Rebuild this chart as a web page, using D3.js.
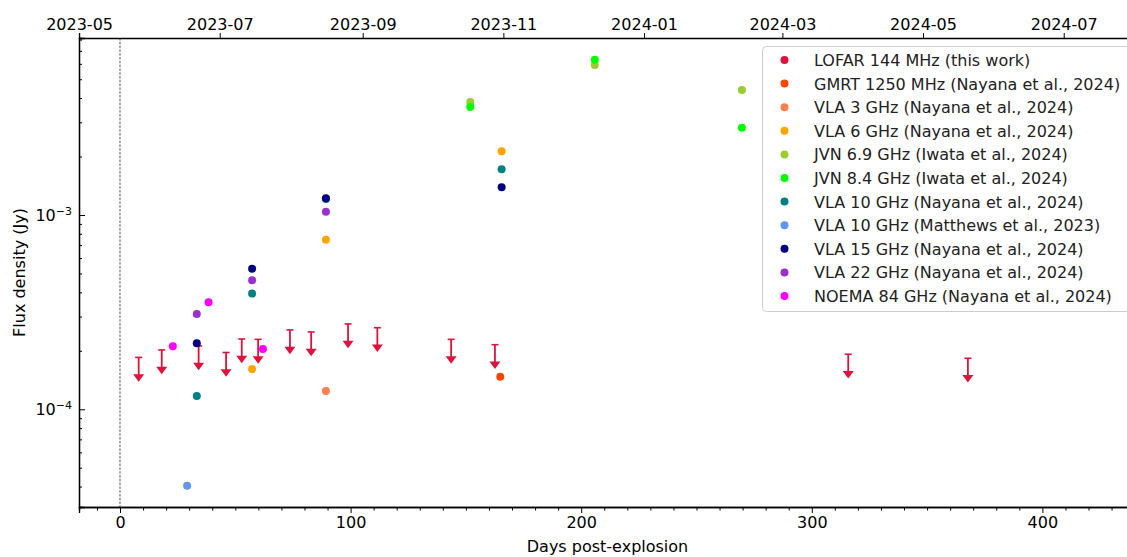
<!DOCTYPE html>
<html lang="en">
<head>
<meta charset="UTF-8">
<title>Radio light curve</title>
<script src="https://d3js.org/d3.v7.min.js"></script>
<style>
    body { margin: 0; background: #fff; }
    svg { font-family: "DejaVu Sans", sans-serif; }
    .axis path, .axis line { stroke: #000; }
    .axis text { font-size: 16px; fill: #000; font-family: "DejaVu Sans", sans-serif; }
</style>
</head>
<body>
<div id="chart"></div>
<script>
// LOFAR 144 MHz upper limits (days post-explosion, flux in Jy at the cap)
var lofarDays  = [8.1, 18.1, 34.1, 46.0, 52.8, 59.9, 73.7, 82.9, 98.9, 111.6, 143.6, 162.6, 315.8, 367.7];
var lofarLimit = [1.85e-4, 2.02e-4, 2.12e-4, 1.96e-4, 2.30e-4, 2.29e-4, 2.56e-4, 2.50e-4, 2.75e-4, 2.63e-4, 2.29e-4, 2.15e-4, 1.92e-4, 1.83e-4];

// detections, one array per series
var gmrt1250 = [[164.9, 1.47e-4]];
var vla3     = [[89.3, 1.24e-4]];
var vla6     = [[57.3, 1.61e-4], [89.3, 7.46e-4], [165.5, 2.13e-3]];
var jvn69    = [[151.9, 3.82e-3], [205.9, 5.91e-3], [269.7, 4.40e-3]];
var jvn84    = [[151.9, 3.60e-3], [205.9, 6.29e-3], [269.7, 2.81e-3]];
var vla10    = [[33.3, 1.17e-4], [57.3, 3.94e-4], [89.3, 1.21e-3], [165.5, 1.72e-3]];
var vla10M   = [[29.1, 4.04e-5]];
var vla15    = [[33.3, 2.19e-4], [57.3, 5.29e-4], [89.3, 1.22e-3], [165.5, 1.39e-3]];
var vla22    = [[33.3, 3.09e-4], [57.3, 4.62e-4], [89.3, 1.04e-3]];
var noema84  = [[22.9, 2.11e-4], [38.4, 3.56e-4], [62.0, 2.04e-4]];

var seriesNames = [
    "LOFAR 144 MHz (this work)",
    "GMRT 1250 MHz (Nayana et al., 2024)",
    "VLA 3 GHz (Nayana et al., 2024)",
    "VLA 6 GHz (Nayana et al., 2024)",
    "JVN 6.9 GHz (Iwata et al., 2024)",
    "JVN 8.4 GHz (Iwata et al., 2024)",
    "VLA 10 GHz (Nayana et al., 2024)",
    "VLA 10 GHz (Matthews et al., 2023)",
    "VLA 15 GHz (Nayana et al., 2024)",
    "VLA 22 GHz (Nayana et al., 2024)",
    "NOEMA 84 GHz (Nayana et al., 2024)"
];
var seriesColors = ["#dc143c", "#ff4500", "#ff7f50", "#ffa500", "#9acd32", "#00ff00",
                    "#008080", "#6495ed", "#000080", "#9932cc", "#ff00ff"];
var seriesData = [null, gmrt1250, vla3, vla6, jvn69, jvn84, vla10, vla10M, vla15, vla22, noema84];

var xDomain = [-17.78, 440.6];
var yDomain = [3.14e-5, 8.15e-3];
var explosion = Date.UTC(2023, 4, 18, 18);  // 2023-05-18.75

var width = 1127, height = 557;
var margin = {left: 79, top: 38, right: 1136, bottom: 507};

var svg = d3.select("#chart").append("svg")
    .attr("width", width)
    .attr("height", height);

var x = d3.scaleLinear().domain(xDomain).range([margin.left, margin.right]);
var y = d3.scaleLog().domain(yDomain).range([margin.bottom, margin.top]);

var dayMs = 86400000;
var xDate = d3.scaleUtc()
    .domain(xDomain.map(function(d) { return new Date(explosion + d * dayMs); }))
    .range([margin.left, margin.right]);

// explosion marker
svg.append("line")
    .attr("x1", x(0)).attr("x2", x(0))
    .attr("y1", margin.top).attr("y2", margin.bottom)
    .style("stroke", "#555")
    .style("stroke-width", 1)
    .style("stroke-dasharray", "2.5,1.3");

// LOFAR upper limits
var lofar = lofarDays.map(function(d, i) { return {day: d, lim: lofarLimit[i]}; });
var ul = svg.append("g").selectAll("g")
    .data(lofar)
    .enter().append("g");

ul.append("line")
    .attr("x1", function(d) { return x(d.day); })
    .attr("x2", function(d) { return x(d.day); })
    .attr("y1", function(d) { return y(d.lim); })
    .attr("y2", function(d) { return y(d.lim * 0.75) - 5; })
    .style("stroke", seriesColors[0])
    .style("stroke-width", 1.8);

ul.append("line")
    .attr("x1", function(d) { return x(d.day) - 3.5; })
    .attr("x2", function(d) { return x(d.day) + 3.5; })
    .attr("y1", function(d) { return y(d.lim); })
    .attr("y2", function(d) { return y(d.lim); })
    .style("stroke", seriesColors[0])
    .style("stroke-width", 1.6);

ul.append("path")
    .attr("d", function(d) {
        var cx = x(d.day), ty = y(d.lim * 0.75);
        return "M" + (cx - 5.5) + "," + (ty - 7.5) + "L" + (cx + 5.5) + "," + (ty - 7.5) + "L" + cx + "," + ty + "Z";
    })
    .style("fill", seriesColors[0]);

// detections
seriesData.forEach(function(data, i) {
    if (!data) return;
    svg.append("g").selectAll("circle")
        .data(data)
        .enter().append("circle")
        .attr("cx", function(d) { return x(d[0]); })
        .attr("cy", function(d) { return y(d[1]); })
        .attr("r", 4)
        .style("fill", seriesColors[i]);
});

// bottom axis: majors + minors pointing out
var bottomMajor = d3.axisBottom(x).tickValues([0, 100, 200, 300, 400])
    .tickSize(6).tickPadding(4).tickFormat(d3.format("d"));
var bottomMinor = d3.axisBottom(x).tickValues(d3.range(-10, 441, 10).filter(function(d) { return d % 100 !== 0; }))
    .tickSize(3.5).tickFormat("");
svg.append("g").attr("class", "axis").attr("transform", "translate(0," + margin.bottom + ")").call(bottomMajor);
svg.append("g").attr("class", "axis").attr("transform", "translate(0," + margin.bottom + ")").call(bottomMinor);

// top axis with calendar dates
var topAxis = d3.axisTop(xDate).ticks(d3.utcMonth.every(2))
    .tickSize(5).tickPadding(3).tickFormat(d3.utcFormat("%Y-%m"));
svg.append("g").attr("class", "axis").attr("transform", "translate(0," + margin.top + ")").call(topAxis);

// left axis: ticks point inwards
var leftMajor = d3.axisLeft(y).tickValues([1e-4, 1e-3]).tickSize(-6).tickFormat("");
var minorVals = [];
[1e-5, 1e-4, 1e-3].forEach(function(dec) {
    for (var k = 2; k <= 9; k++) {
        var v = k * dec;
        if (v >= yDomain[0] && v <= yDomain[1]) minorVals.push(v);
    }
});
var leftMinor = d3.axisLeft(y).tickValues(minorVals).tickSize(-3).tickFormat("");
svg.append("g").attr("class", "axis").attr("transform", "translate(" + margin.left + ",0)").call(leftMajor);
svg.append("g").attr("class", "axis").attr("transform", "translate(" + margin.left + ",0)").call(leftMinor);

[1e-4, 1e-3].forEach(function(v) {
    var t = svg.append("text")
        .attr("x", 72)
        .attr("y", y(v) + 6)
        .attr("text-anchor", "end")
        .style("font-size", "16px");
    t.append("tspan").text("10");
    t.append("tspan").attr("dy", -6.5).style("font-size", "11px").text("\u2212" + (-Math.round(Math.log10(v))));
});

// right spine (mostly off-canvas)
svg.append("line")
    .attr("x1", margin.right).attr("x2", margin.right)
    .attr("y1", margin.top).attr("y2", margin.bottom)
    .style("stroke", "#000");

svg.selectAll(".axis .domain").style("stroke-width", 1.3);

// axis labels
svg.append("text")
    .attr("x", (margin.left + margin.right) / 2)
    .attr("y", 552)
    .attr("text-anchor", "middle")
    .style("font-size", "16px")
    .text("Days post-explosion");

svg.append("text")
    .attr("transform", "translate(25," + ((margin.top + margin.bottom) / 2) + ") rotate(-90)")
    .attr("text-anchor", "middle")
    .style("font-size", "16px")
    .text("Flux density (Jy)");

// legend
var legend = svg.append("g");
legend.append("rect")
    .attr("x", 762.5).attr("y", 46.5)
    .attr("width", 380).attr("height", 265)
    .attr("rx", 4)
    .style("fill", "rgba(255,255,255,0.8)")
    .style("stroke", "#cccccc");

var rows = legend.selectAll("g.row")
    .data(seriesNames)
    .enter().append("g")
    .attr("class", "row")
    .attr("transform", function(d, i) { return "translate(0," + (60 + i * 23.6) + ")"; });

rows.append("circle")
    .attr("cx", 784.5).attr("cy", 0).attr("r", 4)
    .style("fill", function(d, i) { return seriesColors[i]; });

rows.append("text")
    .attr("x", 814).attr("y", 6)
    .style("font-size", "16px")
    .style("fill", "#222")
    .text(function(d) { return d; });
</script>
</body>
</html>
